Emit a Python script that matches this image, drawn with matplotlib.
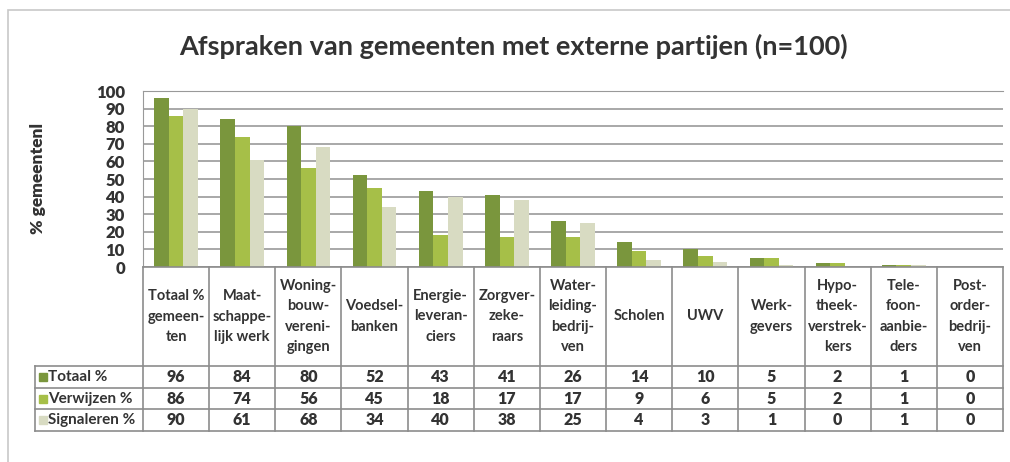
import numpy as np
import matplotlib.pyplot as plt
from matplotlib.patches import Rectangle

plt.rcParams['font.family'] = ['Lato', 'DejaVu Sans']

# data ---------------------------------------------------------------
categories = ['Totaal %\ngemeen-\nten', 'Maat-\nschappe-\nlijk werk', 'Woning-\nbouw-\nvereni-\ngingen',
              'Voedsel-\nbanken', 'Energie-\nleveran-\nciers', 'Zorgver-\nzeke-\nraars',
              'Water-\nleiding-\nbedrij-\nven', 'Scholen', 'UWV', 'Werk-\ngevers',
              'Hypo-\ntheek-\nverstrek-\nkers', 'Tele-\nfoon-\naanbie-\nders', 'Post-\norder-\nbedrij-\nven']
totaal = [96, 84, 80, 52, 43, 41, 26, 14, 10, 5, 2, 1, 0]
verwijzen = [86, 74, 56, 45, 18, 17, 17, 9, 6, 5, 2, 1, 0]
signaleren = [90, 61, 68, 34, 40, 38, 25, 4, 3, 1, 0, 1, 0]
series_names = ['Totaal %', 'Verwijzen %', 'Signaleren %']
colors = ['#7a963d', '#a6bf48', '#d8dbc2']

W, H = 1010, 462
fig = plt.figure(figsize=(W / 100, H / 100), dpi=100)

def px(x0, y0, x1, y1):
    return [x0 / W, 1 - y1 / H, (x1 - x0) / W, (y1 - y0) / H]

# outer chart frame
fig.patches.append(Rectangle((8 / W, -0.1), 1.1, 1 - 10 / H + 0.1, transform=fig.transFigure,
                             fill=False, edgecolor='#c8c8c8', lw=1.2))

fig.text(513 / W, 1 - 46 / H, 'Afspraken van gemeenten met externe partijen (n=100)',
         ha='center', va='center', fontsize=19.5, fontweight='bold', color='#333333')

# bars ---------------------------------------------------------------
ax = fig.add_axes(px(143, 91, 1003, 267))
n = len(categories)
x = np.arange(n)
bw = 0.22
for i, (vals, c) in enumerate(zip([totaal, verwijzen, signaleren], colors)):
    ax.bar(x + (i - 1) * bw, vals, bw, color=c, zorder=3)
ax.set_xlim(-0.5, n - 0.5)
ax.set_ylim(0, 100)
ax.set_yticks(range(0, 101, 10))
ax.yaxis.grid(True, color='#999999', lw=1.2, zorder=0)
ax.set_xticks([])
ax.tick_params(axis='y', length=0, pad=13, labelsize=12, labelcolor='#333333')
for lab in ax.get_yticklabels():
    lab.set_fontweight('heavy')
for s in ['right', 'bottom']:
    ax.spines[s].set_visible(False)
ax.spines['top'].set_color('#999999')
ax.spines['left'].set_color('#999999')
ax.set_ylabel('% gemeentenl', fontsize=12.5, fontweight='heavy', color='#333333', labelpad=36)

# data table ---------------------------------------------------------
left_px, right_px = 35, 1003
cw = (1003 - 143) / n
xl = -0.5 - (143 - left_px) / cw
tab = fig.add_axes(px(left_px - 1, 266, right_px + 1, 432))
tab.set_xlim(xl - 1 / cw, n - 0.5 + 1 / cw)
tab.set_ylim(432, 266)
tab.axis('off')
lc = '#8c8c8c'
rows_y = [267, 366, 388, 409, 431]
# horizontal lines
tab.plot([-0.5, n - 0.5], [rows_y[0]] * 2, color=lc, lw=1.2)
for y in rows_y[1:]:
    tab.plot([xl, n - 0.5], [y, y], color=lc, lw=1.2)
# vertical lines
for b in np.arange(n + 1) - 0.5:
    tab.plot([b, b], [rows_y[0], rows_y[-1]], color=lc, lw=1.2)
tab.plot([xl, xl], [rows_y[1], rows_y[-1]], color=lc, lw=1.2)

for j, cat in enumerate(categories):
    tab.text(j, (rows_y[0] + rows_y[1]) / 2, cat, ha='center', va='center', fontsize=10.5,
             fontweight='bold', color='#333333', linespacing=1.55)

for r, (name, vals, c) in enumerate(zip(series_names, [totaal, verwijzen, signaleren], colors)):
    yc = (rows_y[r + 1] + rows_y[r + 2]) / 2
    tab.add_patch(Rectangle((xl + 0.06, yc - 4), 0.12, 8, color=c))
    tab.text(xl + 0.2, yc, name, ha='left', va='center', fontsize=11, fontweight='bold',
             color='#333333')
    for j, v in enumerate(vals):
        tab.text(j, yc, str(v), ha='center', va='center', fontsize=11.5, fontweight='heavy',
                 color='#333333')

fig.savefig('out.png', dpi=100)
